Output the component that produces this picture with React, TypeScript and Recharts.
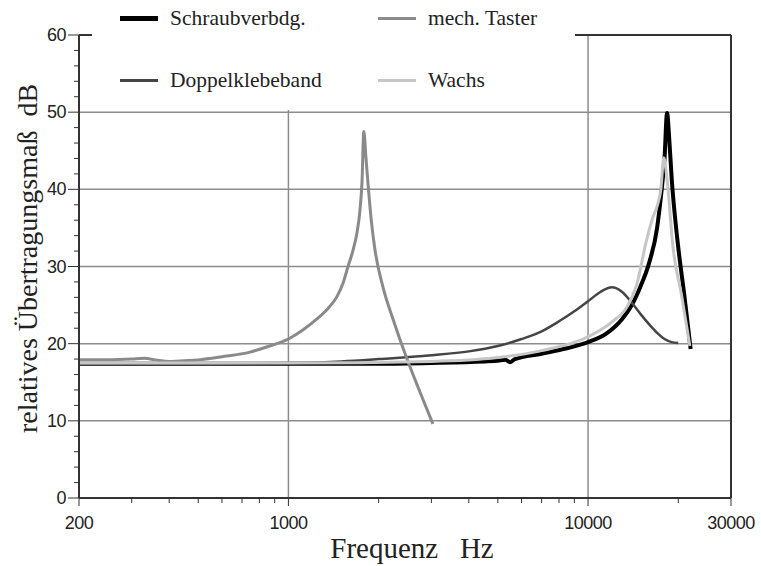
import { LineChart, Line, XAxis, YAxis, ReferenceLine, Label } from 'recharts';

type Pt = { f: number, v: number }

// frequency (Hz) / level (dB) pairs
const schraubF = [200, 500, 1000, 2000, 3000, 4500, 5000, 5300, 5500, 5700, 7000, 8500, 10000, 11500, 13000, 14000, 15000, 16000, 17000, 17500, 18000, 18350, 18700, 19050, 19500, 20000, 21000, 22000]
const schraubV = [17.4, 17.4, 17.4, 17.4, 17.5, 17.7, 17.8, 17.9, 17.6, 18.0, 18.7, 19.4, 20.2, 21.3, 23.2, 25.0, 27.5, 30.5, 35.0, 39.0, 44.0, 49.9, 46.0, 41.0, 36.5, 32.5, 26.0, 19.3]

const tasterF = [200, 250, 300, 330, 360, 400, 450, 500, 600, 744, 850, 1000, 1120, 1245, 1350, 1452, 1520, 1581, 1640, 1694, 1730, 1760, 1785, 1815, 1842, 1890, 1944, 2066, 2233, 2488, 2750, 3035]
const tasterV = [17.9, 17.9, 18.0, 18.1, 17.9, 17.7, 17.8, 17.9, 18.3, 18.9, 19.6, 20.6, 21.8, 23.2, 24.5, 26.1, 27.8, 30.0, 32.0, 34.4, 37.0, 40.9, 47.5, 44.0, 40.9, 36.0, 32.2, 27.4, 23.2, 18.0, 13.7, 9.6]

const doppelF = [200, 500, 1000, 1500, 2000, 3000, 4000, 5000, 6000, 7000, 8000, 9000, 10000, 11000, 12000, 13000, 14000, 15000, 16000, 17000, 18000, 19000, 20000]
const doppelV = [17.4, 17.4, 17.5, 17.7, 18.0, 18.5, 19.0, 19.7, 20.6, 21.6, 22.9, 24.2, 25.5, 26.7, 27.3, 26.7, 25.3, 23.8, 22.5, 21.4, 20.6, 20.2, 20.1]

const wachsF = [200, 1000, 3000, 5000, 7000, 10000, 12000, 13500, 14500, 15700, 16500, 17000, 17500, 17900, 18350, 19200, 20550, 21870]
const wachsV = [17.5, 17.5, 17.7, 18.2, 19.1, 20.9, 22.8, 24.8, 27.5, 33.5, 36.5, 37.8, 40.0, 44.1, 41.3, 32.6, 26.1, 19.7]

const xMajor = [200, 1000, 10000, 30000]
const xMinor = [300, 400, 500, 600, 700, 800, 900, 2000, 3000, 4000, 5000, 6000, 7000, 8000, 9000, 20000]
const yMajor = [0, 10, 20, 30, 40, 50, 60]
const yMinor = [2, 4, 6, 8, 12, 14, 16, 18, 22, 24, 26, 28, 32, 34, 36, 38, 42, 44, 46, 48, 52, 54, 56, 58]

const series = [
  { name: 'Schraubverbdg.', f: schraubF, v: schraubV, color: '#000000', width: 4 },
  { name: 'Doppelklebeband', f: doppelF, v: doppelV, color: '#454545', width: 2.5 },
  { name: 'mech. Taster', f: tasterF, v: tasterV, color: '#8a8a8a', width: 3 },
  { name: 'Wachs', f: wachsF, v: wachsV, color: '#c6c6c6', width: 3 },
]

const toPts = (f: number[], v: number[]): Pt[] => f.map((x, i) => ({ f: x, v: v[i] }))

const sans = '"Liberation Sans", Arial, sans-serif'
const serif = '"Liberation Serif", "Times New Roman", serif'
const axisColor = '#333'
const gridColor = '#8c8c8c'

const XTick = (props: any) => {
  const { x, y, payload } = props
  const major = xMajor.includes(payload.value)
  return (
    <g>
      <line x1={x} x2={x} y1={y} y2={y + (major ? 8 : 5)} stroke={axisColor} strokeWidth={1} />
      {major && (
        <text x={x} y={y + 31} textAnchor="middle" fontFamily={sans} fontSize={18} letterSpacing={-0.5} fill="#222">
          {payload.value}
        </text>
      )}
    </g>
  )
}

const YTick = (props: any) => {
  const { x, y, payload } = props
  const major = yMajor.includes(payload.value)
  return (
    <g>
      <line x1={x - (major ? 11 : 5)} x2={x} y1={y} y2={y} stroke={axisColor} strokeWidth={1} />
      {major && (
        <text x={x - 13} y={y + 6} textAnchor="end" fontFamily={sans} fontSize={18} letterSpacing={-0.5} fill="#222">
          {payload.value}
        </text>
      )}
    </g>
  )
}

const legendLeft = [series[0], series[1]]
const legendRight = [series[2], series[3]]

const LegendItem = ({ s, top, left }: { s: typeof series[0], top: number, left: number }) => (
  <div style={{ position: 'absolute', top, left, display: 'flex', alignItems: 'center' }}>
    <div style={{ width: 38, height: s.width === 4 ? 5 : 3, background: s.color, marginRight: 12 }} />
    <span style={{ fontFamily: serif, fontSize: 21.5, color: '#222', whiteSpace: 'pre' }}>{s.name}</span>
  </div>
)

const App = () => {
  return (
    <div style={{ position: 'absolute', left: 0, top: 0, width: 761, height: 566, background: '#fff' }}>
      <LineChart width={761} height={566} margin={{ top: 35, right: 30, bottom: 0, left: 0 }}>
        <XAxis
          type="number"
          dataKey="f"
          scale="log"
          domain={[200, 30000]}
          allowDataOverflow
          ticks={[...xMajor, ...xMinor]}
          interval={0}
          tickSize={0}
          tickMargin={0}
          tickLine={false}
          tick={<XTick />}
          axisLine={{ stroke: axisColor, strokeWidth: 2 }}
          height={68}
        >
          <Label
            content={({ viewBox }: any) => (
              <text x={viewBox.x + viewBox.width / 2 + 7} y={viewBox.y + 60} textAnchor="middle" fontFamily={serif} fontSize={29} fill="#222">
                {'Frequenz\u00a0\u00a0\u00a0Hz'}
              </text>
            )}
          />
        </XAxis>
        <YAxis
          type="number"
          domain={[0, 60]}
          ticks={[...yMajor, ...yMinor]}
          interval={0}
          tickSize={0}
          tickMargin={0}
          tickLine={false}
          tick={<YTick />}
          axisLine={{ stroke: axisColor, strokeWidth: 2 }}
          width={79}
        >
          <Label
            content={({ viewBox }: any) => {
              const cx = 27
              const cy = viewBox.y + viewBox.height / 2 - 8
              return (
                <text x={cx} y={cy} transform={`rotate(-90 ${cx} ${cy})`} textAnchor="middle" dominantBaseline="central" fontFamily={serif} fontSize={28} fill="#222">
                  {'relatives Übertragungsmaß\u00a0\u00a0dB'}
                </text>
              )
            }}
          />
        </YAxis>

        {[10, 20, 30, 40, 50].map(v => (
          <ReferenceLine key={'h' + v} y={v} stroke={gridColor} strokeWidth={1.5} />
        ))}
        {[1000, 10000].map(f => (
          <ReferenceLine key={'v' + f} x={f} stroke={gridColor} strokeWidth={1.5} />
        ))}
        <ReferenceLine y={60} stroke={axisColor} strokeWidth={2} />
        <ReferenceLine x={30000} stroke={axisColor} strokeWidth={2} />

        {series.map(s => (
          <Line
            key={s.name}
            data={toPts(s.f, s.v)}
            dataKey="v"
            type="monotone"
            stroke={s.color}
            strokeWidth={s.width}
            dot={false}
            isAnimationActive={false}
          />
        ))}
      </LineChart>

      <div style={{ position: 'absolute', left: 92, top: 0, width: 483, height: 110, background: '#fff' }}>
        {legendLeft.map((s, i) => (
          <LegendItem key={s.name} s={s} top={6 + i * 62} left={28} />
        ))}
        {legendRight.map((s, i) => (
          <LegendItem key={s.name} s={s} top={6 + i * 62} left={286} />
        ))}
      </div>
    </div>
  )
}

export default App
